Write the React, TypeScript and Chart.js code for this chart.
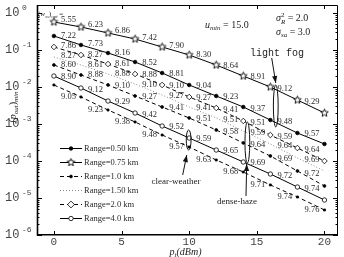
import React, { useEffect, useRef } from "react";
import { Chart, registerables } from "chart.js";

Chart.register(...registerables);

// ---------------- data ----------------
const powerDbm = [0, 2, 4, 6, 8, 10, 12, 14, 16, 18, 20];

const pout050 = [0.239, 0.1365, 0.083, 0.0474, 0.0239, 0.01133, 0.00571, 0.00288, 0.00128, 0.000571, 0.000288];
const pout075 = [0.571, 0.418, 0.288, 0.198, 0.1205, 0.0733, 0.0393, 0.0198, 0.01, 0.00445, 0.00198];
const pout100 = [0.0393, 0.0211, 0.01133, 0.00571, 0.00288, 0.001453, 0.000689, 0.000307, 0.0001365, 0.0000537, 0.0000211];
const pout150 = [0.0647, 0.0393, 0.02245, 0.01206, 0.00608, 0.00288, 0.001453, 0.000647, 0.000288, 0.0001206, 0.0000537];
const pout200 = [0.1205, 0.0733, 0.0418, 0.02245, 0.01133, 0.00537, 0.00271, 0.001206, 0.000504, 0.0002245, 0.0001];
const pout400 = [0.0198, 0.0094, 0.00418, 0.00198, 0.000883, 0.000418, 0.000198, 0.000094, 0.0000445, 0.0000198, 0.00000883];
const poutExtra = [0.01133, 0.00537, 0.00239, 0.001133, 0.000504, 0.000239, 0.0001064, 0.0000504, 0.0000225, 0.00001064, 0.00000474];

const thr050 = ["7.22", "7.73", "8.16", "8.52", "8.81", "9.04", "9.23", "9.37", "9.48", "9.57"];
const thr075 = ["5.55", "6.23", "6.86", "7.42", "7.90", "8.30", "8.64", "8.91", "9.12", "9.29"];
const thr100 = ["8.60", "8.88", "9.10", "9.27", "9.41", "9.51", "9.58", "9.64", "9.69", "9.72"];
const thr150 = ["8.27", "8.61", "8.88", "9.10", "9.27", "9.41", "9.51", "9.59", "9.64", "9.69"];
const thr200 = ["7.86", "8.27", "8.61", "8.88", "9.10", "9.27", "9.41", "9.51", "9.59", "9.64"];
const thr400 = ["8.90", "9.12", "9.29", "9.42", "9.52", "9.59", "9.65", "9.69", "9.72", "9.74"];
const thrExtra = ["9.05", "9.23", "9.38", "9.48", "9.57", "9.63", "9.68", "9.71", "9.74", "9.76"];

const xTickValues = [0, 5, 10, 15, 20];
const yTickExponents = [0, -1, -2, -3, -4, -5, -6];

const SERIF = "'Liberation Serif','DejaVu Serif',serif";
const MONO = "'Liberation Mono','DejaVu Sans Mono',monospace";

function makeStar(r: number) {
  const s = Math.ceil(r * 2 + 3);
  const c = document.createElement("canvas");
  c.width = s;
  c.height = s;
  const g = c.getContext("2d")!;
  g.translate(s / 2, s / 2);
  g.beginPath();
  for (let k = 0; k < 10; k++) {
    const rr = k % 2 === 0 ? r : r * 0.45;
    const ang = -Math.PI / 2 + (k * Math.PI) / 5;
    g.lineTo(rr * Math.cos(ang), rr * Math.sin(ang));
  }
  g.closePath();
  g.fillStyle = "#fff";
  g.fill();
  g.strokeStyle = "#000";
  g.lineWidth = 0.9;
  g.stroke();
  return c;
}

type Seg = { t: string; f: string; dy?: number; noAdv?: boolean };
function rich(ctx: CanvasRenderingContext2D, x: number, y: number, segs: Seg[], align = "left") {
  let w = 0;
  for (const s of segs) {
    ctx.font = s.f;
    if (!s.noAdv) w += ctx.measureText(s.t).width;
  }
  let cx = align === "center" ? x - w / 2 : x;
  ctx.textAlign = "left";
  ctx.textBaseline = "alphabetic";
  for (const s of segs) {
    ctx.font = s.f;
    ctx.fillText(s.t, cx, y + (s.dy || 0));
    if (!s.noAdv) cx += ctx.measureText(s.t).width;
  }
}

function arrow(ctx: CanvasRenderingContext2D, x1: number, y1: number, x2: number, y2: number) {
  ctx.beginPath();
  ctx.moveTo(x1, y1);
  ctx.lineTo(x2, y2);
  ctx.stroke();
  const a = Math.atan2(y2 - y1, x2 - x1);
  const L = 7, W = 2.6;
  ctx.beginPath();
  ctx.moveTo(x2, y2);
  ctx.lineTo(x2 - L * Math.cos(a) + W * Math.sin(a), y2 - L * Math.sin(a) - W * Math.cos(a));
  ctx.lineTo(x2 - L * Math.cos(a) - W * Math.sin(a), y2 - L * Math.sin(a) + W * Math.cos(a));
  ctx.closePath();
  ctx.fill();
}

export default function App() {
  const ref = useRef<HTMLCanvasElement | null>(null);

  useEffect(() => {
    const canvas = ref.current!;
    const star = makeStar(4);

    const series = [
      { label: "Range=0.50 km", data: pout050, thr: thr050, dash: [] as number[], color: "#000", ps: "circle" as any, pr: 1.8, bg: "#000", legend: true, below: false },
      { label: "Range=0.75 km", data: pout075, thr: thr075, dash: [], color: "#000", ps: star as any, pr: 4, bg: "#fff", legend: true, below: false },
      { label: "Range=1.0 km", data: pout100, thr: thr100, dash: [4, 3], color: "#000", ps: "circle", pr: 1.4, bg: "#000", legend: true, below: false },
      { label: "Range=1.50 km", data: pout150, thr: thr150, dash: [1, 2], color: "#888", ps: "circle", pr: 0, bg: "#888", legend: true, below: false },
      { label: "Range=2.0 km", data: pout200, thr: thr200, dash: [4, 3], color: "#000", ps: "rectRot", pr: 2.8, bg: "#fff", legend: true, below: false },
      { label: "Range=4.0 km", data: pout400, thr: thr400, dash: [], color: "#000", ps: "circle", pr: 2.2, bg: "#fff", legend: true, below: false },
      { label: "extra", data: poutExtra, thr: thrExtra, dash: [4, 3], color: "#000", ps: "rect", pr: 1.4, bg: "#000", legend: false, below: true },
    ];

    const overlay = {
      id: "overlay",
      afterDatasetsDraw(chart: any) {
        const { ctx, chartArea: a, scales } = chart;
        const xs = scales.x, ys = scales.y;
        ctx.save();

        // threshold labels along each curve
        ctx.fillStyle = "#2a2a2a";
        ctx.font = `8.5px ${SERIF}`;
        ctx.textAlign = "center";
        ctx.textBaseline = "middle";
        series.forEach((s) => {
          s.thr.forEach((t, i) => {
            const px = xs.getPixelForValue((powerDbm[i] + powerDbm[i + 1]) / 2);
            const py = (ys.getPixelForValue(s.data[i]) + ys.getPixelForValue(s.data[i + 1])) / 2;
            ctx.fillText(t, px + 1, py + (s.below ? 6 : -5));
          });
        });

        // frame
        ctx.strokeStyle = "#000";
        ctx.lineWidth = 1;
        ctx.beginPath();
        ctx.moveTo(a.left, a.top + 0.5);
        ctx.lineTo(a.right - 0.5, a.top + 0.5);
        ctx.lineTo(a.right - 0.5, a.bottom);
        ctx.stroke();
        ctx.lineWidth = 1.6;
        ctx.beginPath();
        ctx.moveTo(a.left + 0.5, a.top);
        ctx.lineTo(a.left + 0.5, a.bottom - 0.3);
        ctx.lineTo(a.right, a.bottom - 0.3);
        ctx.stroke();

        // ticks
        ctx.lineWidth = 1;
        ctx.beginPath();
        xTickValues.forEach((v) => {
          const px = Math.round(xs.getPixelForValue(v)) + 0.5;
          ctx.moveTo(px, a.bottom);
          ctx.lineTo(px, a.bottom - 4);
          ctx.moveTo(px, a.top);
          ctx.lineTo(px, a.top + 4);
        });
        yTickExponents.forEach((e) => {
          const py = Math.round(ys.getPixelForValue(Math.pow(10, e))) + 0.5;
          ctx.moveTo(a.left, py);
          ctx.lineTo(a.left + 5, py);
          ctx.moveTo(a.right, py);
          ctx.lineTo(a.right - 5, py);
          if (e > -6) {
            for (let m = 2; m <= 9; m++) {
              const v = m * Math.pow(10, e - 1);
              const q = Math.round(ys.getPixelForValue(v)) + 0.5;
              ctx.moveTo(a.left, q);
              ctx.lineTo(a.left + 2.5, q);
              ctx.moveTo(a.right, q);
              ctx.lineTo(a.right - 2.5, q);
            }
          }
        });
        ctx.stroke();

        // tick labels
        ctx.fillStyle = "#444";
        ctx.font = `11px ${MONO}`;
        ctx.textAlign = "center";
        ctx.textBaseline = "middle";
        xTickValues.forEach((v) => {
          ctx.fillText(String(v), xs.getPixelForValue(v), a.bottom + 7);
        });
        yTickExponents.forEach((e) => {
          const py = ys.getPixelForValue(Math.pow(10, e));
          ctx.textAlign = "left";
          ctx.font = `12px ${MONO}`;
          ctx.fillText("10", 5, py);
          ctx.font = `8px ${MONO}`;
          ctx.fillText(String(e), 22, py - 5);
        });

        // axis titles
        ctx.fillStyle = "#222";
        ctx.save();
        ctx.translate(16, 107);
        ctx.rotate(-Math.PI / 2);
        rich(ctx, 0, 0, [
          { t: "(", f: `10px ${SERIF}` },
          { t: "p", f: `italic 10px ${SERIF}` },
          { t: "out", f: `italic 7px ${SERIF}`, dy: 2 },
          { t: ")", f: `10px ${SERIF}` },
          { t: "min", f: `italic 7px ${SERIF}`, dy: 2 },
        ], "center");
        ctx.restore();
        rich(ctx, (a.left + a.right) / 2 - 2, 255, [
          { t: "p", f: `italic 10px ${SERIF}` },
          { t: "t", f: `italic 7px ${SERIF}`, dy: 2 },
          { t: "(dBm)", f: `italic 10px ${SERIF}` },
        ], "center");

        // annotations
        rich(ctx, a.left + 1, 16, [
          { t: "(", f: `7px ${SERIF}` },
          { t: "w", f: `italic 7px ${SERIF}` },
          { t: "ss", f: `italic 5px ${SERIF}`, dy: 1.5 },
          { t: ")", f: `7px ${SERIF}` },
          { t: "opt", f: `italic 5px ${SERIF}`, dy: 1.5 },
          { t: " =", f: `7px ${SERIF}` },
        ]);
        rich(ctx, 205, 28, [
          { t: "u", f: `italic 10px ${SERIF}` },
          { t: "min", f: `italic 7px ${SERIF}`, dy: 2 },
          { t: " = 15.0", f: `10px ${SERIF}` },
        ]);
        rich(ctx, 276, 21, [
          { t: "σ", f: `italic 10px ${SERIF}` },
          { t: "2", f: `7px ${SERIF}`, dy: -4, noAdv: true },
          { t: "R", f: `italic 7px ${SERIF}`, dy: 3 },
          { t: " = 2.0", f: `10px ${SERIF}` },
        ]);
        rich(ctx, 276, 35, [
          { t: "σ", f: `italic 10px ${SERIF}` },
          { t: "sa", f: `italic 7px ${SERIF}`, dy: 2 },
          { t: " = 3.0", f: `10px ${SERIF}` },
        ]);

        ctx.fillStyle = "#222";
        ctx.font = `10px ${MONO}`;
        ctx.textAlign = "center";
        ctx.textBaseline = "middle";
        ctx.fillText("light fog", 277, 53);
        ctx.font = `9px ${SERIF}`;
        ctx.fillText("clear-weather", 176, 182);
        ctx.fillText("dense-haze", 237, 202);

        // ellipses
        ctx.strokeStyle = "#111";
        ctx.fillStyle = "#111";
        ctx.lineWidth = 1;
        const ell = (xv: number, yTop: number, yBot: number) => {
          const cx = xs.getPixelForValue(xv);
          const t = ys.getPixelForValue(yTop), b = ys.getPixelForValue(yBot);
          ctx.beginPath();
          ctx.ellipse(cx, (t + b) / 2, 2.4, (b - t) / 2, 0, 0, Math.PI * 2);
          ctx.stroke();
        };
        ell(16.4, 0.0113, 0.00083);
        ell(14.3, 0.00113, 0.000088);
        ell(9.96, 0.00069, 0.000198);

        // arrows
        arrow(ctx, xs.getPixelForValue(16.1), ys.getPixelForValue(0.0608), xs.getPixelForValue(16.4), ys.getPixelForValue(0.0128));
        arrow(ctx, xs.getPixelForValue(14.2), ys.getPixelForValue(0.0000113), xs.getPixelForValue(14.25), ys.getPixelForValue(0.000083));
        arrow(ctx, xs.getPixelForValue(9.52), ys.getPixelForValue(0.000042), xs.getPixelForValue(9.82), ys.getPixelForValue(0.000145));

        // legend
        let ly = 148;
        series.filter((s) => s.legend).forEach((s) => {
          ctx.strokeStyle = s.color;
          ctx.lineWidth = 1;
          ctx.setLineDash(s.dash);
          ctx.beginPath();
          ctx.moveTo(60, ly + 0.5);
          ctx.lineTo(82, ly + 0.5);
          ctx.stroke();
          ctx.setLineDash([]);
          ctx.strokeStyle = "#000";
          ctx.fillStyle = s.bg;
          const mx = 71, my = ly + 0.5;
          if (typeof s.ps !== "string") {
            ctx.drawImage(s.ps, mx - s.ps.width / 2, my - s.ps.height / 2);
          } else if (s.pr > 0) {
            ctx.beginPath();
            if (s.ps === "circle") ctx.arc(mx, my, s.pr, 0, Math.PI * 2);
            else if (s.ps === "rectRot") {
              ctx.moveTo(mx, my - s.pr - 0.6);
              ctx.lineTo(mx + s.pr + 0.6, my);
              ctx.lineTo(mx, my + s.pr + 0.6);
              ctx.lineTo(mx - s.pr - 0.6, my);
              ctx.closePath();
            }
            ctx.fill();
            ctx.lineWidth = 0.8;
            ctx.stroke();
          }
          ctx.fillStyle = "#2a2a2a";
          ctx.font = `8.5px ${SERIF}`;
          ctx.textAlign = "left";
          ctx.textBaseline = "middle";
          ctx.fillText(s.label, 84, ly + 0.5);
          ly += 14;
        });

        ctx.restore();
      },
    };

    const chart = new Chart(canvas, {
      type: "line",
      data: {
        datasets: series.map((s) => ({
          label: s.label,
          data: powerDbm.map((p, i) => ({ x: p, y: s.data[i] })),
          borderColor: s.color,
          borderWidth: 1,
          borderDash: s.dash,
          pointStyle: s.ps,
          pointRadius: s.pr,
          pointBackgroundColor: s.bg,
          pointBorderColor: "#000",
          pointBorderWidth: 0.8,
          fill: false,
          tension: 0,
        })),
      },
      options: {
        animation: false,
        responsive: false,
        devicePixelRatio: 1,
        layout: { padding: { left: 37, top: 5, right: 6, bottom: 22 } },
        scales: {
          x: { type: "linear", min: -1.25, max: 21, display: false },
          y: { type: "logarithmic", min: 1e-6, max: Math.pow(10, 0.216), display: false },
        },
        plugins: { legend: { display: false }, tooltip: { enabled: false } },
      },
      plugins: [overlay],
    } as any);

    return () => chart.destroy();
  }, []);

  return (
    <div style={{ position: "fixed", left: 0, top: 0, width: 344, height: 257, background: "#fff" }}>
      <canvas ref={ref} width={344} height={257} style={{ display: "block" }} />
    </div>
  );
}
